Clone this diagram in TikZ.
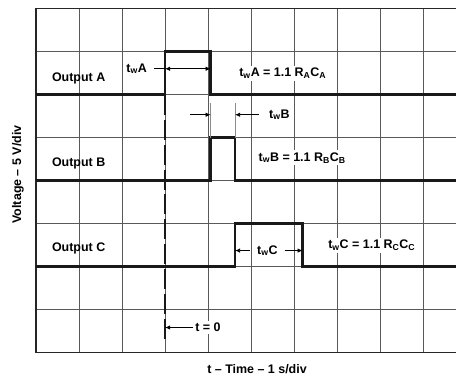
\documentclass[tikz,border=0pt]{standalone}
\usepackage{fontspec}
\setmainfont{Liberation Sans}
\usetikzlibrary{arrows.meta}
\begin{document}
\begin{tikzpicture}[x=43bp, y=43bp,
  font=\fontsize{12.5}{15}\selectfont\bfseries,
  gridline/.style={draw=black!65, line width=0.7bp},
  signal/.style={draw=black!90, line width=2.3bp},
  tag/.style={fill=white, inner sep=2bp},
  dim/.style={line width=0.8bp, -{Latex[length=5bp,width=4.5bp]}},
  dimboth/.style={line width=0.8bp, {Latex[length=5bp,width=4.5bp]}-{Latex[length=5bp,width=4.5bp]}},
  ext/.style={draw=black!45, line width=0.6bp}]
\useasboundingbox (-0.84,-0.58) rectangle (9.77,8.2);
% grid
\foreach \i in {1,...,9} \draw[gridline] (\i,0) -- (\i,8);
\foreach \j in {1,...,7} \draw[gridline] (0,\j) -- (9.77,\j);
\draw[black!85, line width=1.5bp] (9.77,8) -- (0,8) -- (0,0) -- (9.77,0);
% pulse edges
\coordinate (a0) at (3,7);    \coordinate (a1) at (4.06,7);
\coordinate (b0) at (4.06,5); \coordinate (b1) at (4.63,5);
\coordinate (c0) at (4.63,3); \coordinate (c1) at (6.2,3);
\draw[signal] (0,6) -- (3,6) -- (a0) -- (a1) -- (4.06,6) -- (9.77,6);
\draw[signal] (0,4) -- (4.06,4) -- (b0) -- (b1) -- (4.63,4) -- (9.77,4);
\draw[signal] (0,2) -- (4.63,2) -- (c0) -- (c1) -- (6.2,2) -- (9.77,2);
% t = 0
\coordinate (t0top) at (3,6);
\coordinate (t0bot) at (3,0.2);
\draw[black!90, line width=2bp, dash pattern=on 20bp off 5bp] (t0top) -- (t0bot);
% labels
\node (outA) at (0.99,6.37) {Output A};
\node (outB) at (0.99,4.40) {Output B};
\node (outC) at (0.99,2.42) {Output C};
\node[tag] (twA) at (2.34,6.60) {t\textsubscript{w}A};
\node[tag] (twB) at (5.66,5.53) {t\textsubscript{w}B};
\node[tag] (twC) at (5.38,2.37) {t\textsubscript{w}C};
\node[tag] (eqA) at (5.74,6.49) {t\textsubscript{w}A = 1.1 R\textsubscript{A}C\textsubscript{A}};
\node[tag] (eqB) at (6.19,4.53) {t\textsubscript{w}B = 1.1 R\textsubscript{B}C\textsubscript{B}};
\node[tag] (eqC) at (7.81,2.49) {t\textsubscript{w}C = 1.1 R\textsubscript{C}C\textsubscript{C}};
\node[tag] (tzero) at (4.0,0.58) {t = 0};
\node[rotate=90] (volt) at (-0.42,4.14) {Voltage -- 5 V/div};
\node (time) at (5.14,-0.40) {t -- Time -- 1 s/div};
% dimension arrows
\draw[line width=0.8bp, shorten <=5bp] (twA.east) -- (twA -| a0);
\draw[dimboth] (twA -| a0) -- (twA -| a1);
\coordinate (bL) at (3.58,5.53);
\draw[ext] (b0) -- ++(0,0.8);
\draw[ext] (b1) -- ++(0,0.8);
\draw[dim] (bL) -- (bL -| b0);
\draw[dim, shorten <=8bp] (twB.west) -- (twB -| b1);
\draw[dim, shorten <=5bp] (twC.west) -- (twC -| c0);
\draw[dim, shorten <=5bp] (twC.east) -- (twC -| c1);
\draw[dim] (tzero.west) -- (tzero -| t0bot);
\end{tikzpicture}
\end{document}
